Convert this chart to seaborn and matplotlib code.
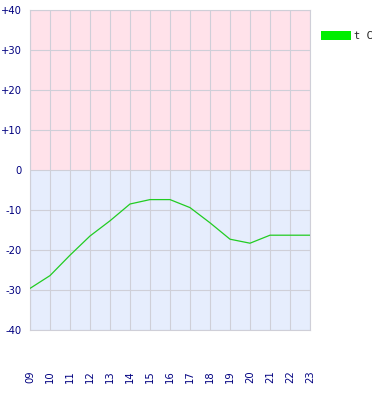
import matplotlib
matplotlib.use("Agg")
import matplotlib.pyplot as plt
import seaborn as sns
import pandas as pd
from matplotlib.patches import Patch

hours = ["09", "10", "11", "12", "13", "14", "15", "16", "17", "18", "19", "20", "21", "22", "23"]
temps = [-29.6, -26.4, -21.3, -16.5, -12.7, -8.5, -7.4, -7.4, -9.4, -13.2, -17.3, -18.3, -16.3, -16.3, -16.3]
yticks = [40, 30, 20, 10, 0, -10, -20, -30, -40]
ytick_labels = ["+40", "+30", "+20", "+10", "0", "-10", "-20", "-30", "-40"]
series_name = "t C"

sns.set_style("white")
plt.rcParams["font.family"] = ["DejaVu Sans"]

df = pd.DataFrame({"x": range(len(hours)), "t": temps})

fig = plt.figure(figsize=(3.8, 4.0), dpi=100)
ax = fig.add_axes([30 / 380, 70 / 400, 280 / 380, 320 / 400])

ax.axhspan(0, 40, color="#ffe2ea", zorder=0, lw=0)
ax.axhspan(-40, 0, color="#e6edfd", zorder=0, lw=0)

sns.lineplot(data=df, x="x", y="t", ax=ax, color="#22cc22", lw=0.9, zorder=3)

ax.set_xlim(0, len(hours) - 1)
ax.set_ylim(-40, 40)
ax.set_xticks(range(len(hours)))
ax.set_xticklabels(hours, rotation=90, fontsize=7.2, color="#000080")
ax.set_yticks(yticks)
ax.set_yticklabels(ytick_labels, fontsize=7.2, color="#000080")
ax.grid(True, color="#cfcfd8", lw=0.8, zorder=1)
ax.set_axisbelow(True)
ax.tick_params(axis="x", length=0, pad=29)
ax.tick_params(axis="y", length=0, pad=6)
for s in ax.spines.values():
    s.set_color("#cfcfd8")
    s.set_linewidth(0.8)
ax.set_xlabel("")
ax.set_ylabel("")

handles = [Patch(facecolor="#00ee00", edgecolor="none", label=series_name)]
fig.legend(handles=handles, loc="upper left", bbox_to_anchor=(312 / 380, 1 - 22 / 400),
           frameon=False, handlelength=2.8, handleheight=0.9,
           handletextpad=0.3, prop={"family": "DejaVu Sans Mono", "size": 7.5})

fig.savefig("out.png", dpi=100)
